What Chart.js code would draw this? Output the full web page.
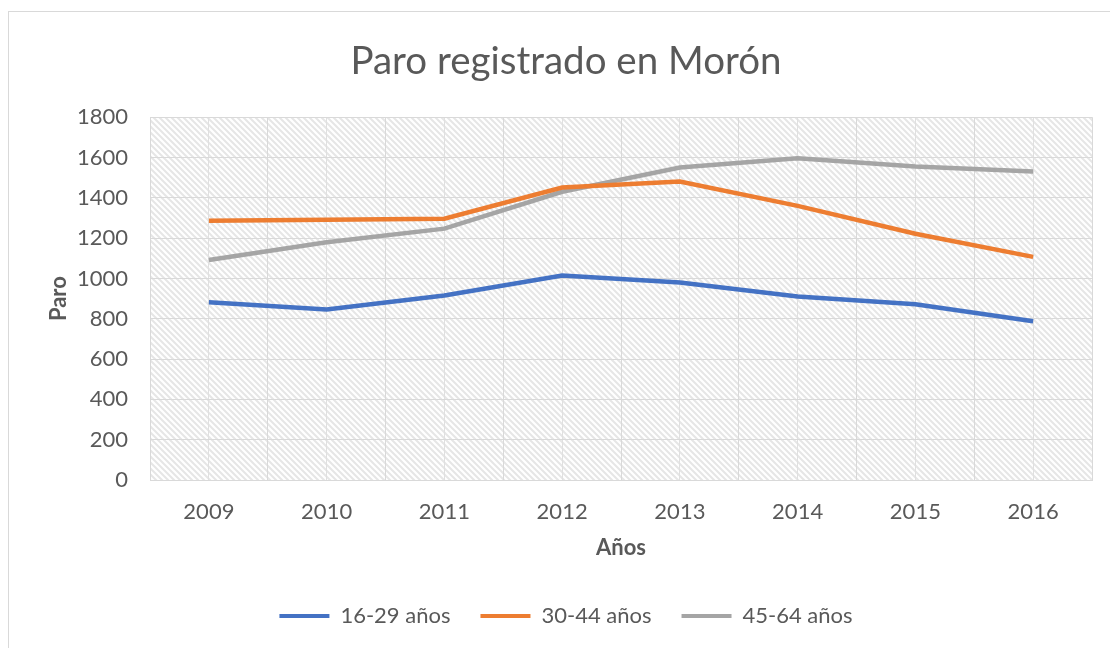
<!DOCTYPE html>
<html>
<head>
<meta charset="utf-8">
<script src="https://cdn.jsdelivr.net/npm/chart.js@4"></script>
<style>
  html, body { margin: 0; padding: 0; background: #fff; }
  #wrap { position: relative; width: 1110px; height: 648px; overflow: hidden; }
  #frame { position: absolute; left: 8px; top: 11px; width: 1120px; height: 660px; border: 1px solid #d9d9d9; box-sizing: border-box; }
  #myChart { position: absolute; left: 0; top: 0; }
</style>
</head>
<body>
<div id="wrap">
  <div id="frame"></div>
  <canvas id="myChart" width="1110" height="648"></canvas>
</div>
<script>
// categories and series
const years = ['2009', '2010', '2011', '2012', '2013', '2014', '2015', '2016'];
const age16to29 = [882, 846, 915, 1015, 980, 910, 872, 788];
const age30to44 = [1286, 1291, 1296, 1451, 1481, 1360, 1222, 1107];
const age45to64 = [1092, 1180, 1247, 1430, 1550, 1596, 1556, 1531];
const yTicks = [0, 200, 400, 600, 800, 1000, 1200, 1400, 1600, 1800];

const textGrey = '#595959';
const font = "Lato, 'Open Sans', sans-serif";

// diagonal hatch behind the plot area
const hatchPlugin = {
    id: 'hatch',
    beforeDraw(chart) {
        const area = chart.chartArea;
        const ctx = chart.ctx;
        const tile = document.createElement('canvas');
        tile.width = 6;
        tile.height = 6;
        const t = tile.getContext('2d');
        t.strokeStyle = '#e6e6e6';
        t.lineWidth = 2;
        t.beginPath();
        t.moveTo(-1, -1); t.lineTo(7, 7);
        t.moveTo(-4, 2); t.lineTo(4, 10);
        t.moveTo(2, -4); t.lineTo(10, 4);
        t.stroke();
        ctx.save();
        ctx.fillStyle = ctx.createPattern(tile, 'repeat');
        ctx.fillRect(area.left, area.top, area.right - area.left, area.bottom - area.top);
        ctx.restore();
    }
};

const chartCanvas = document.getElementById('myChart');
const ctx = chartCanvas.getContext('2d');

function lineSet(label, data, color) {
    return {
        label: label,
        data: data,
        borderColor: color,
        backgroundColor: color,
        borderWidth: 4.5,
        pointRadius: 0,
        tension: 0,
        fill: false
    };
}

new Chart(ctx, {
    type: 'line',
    data: {
        labels: years,
        datasets: [
            lineSet('16-29 años', age16to29, '#4472C4'),
            lineSet('30-44 años', age30to44, '#ED7D31'),
            lineSet('45-64 años', age45to64, '#A5A5A5')
        ]
    },
    options: {
        responsive: false,
        animation: false,
        layout: { padding: { left: 40, right: 18, top: 38, bottom: 11 } },
        plugins: {
            title: {
                display: true,
                text: 'Paro registrado en Morón',
                color: textGrey,
                font: { family: font, size: 38.5, weight: 'normal' },
                padding: { top: 0, bottom: 33 }
            },
            legend: {
                position: 'bottom',
                labels: {
                    color: textGrey,
                    font: { family: font, size: 22 },
                    boxWidth: 50,
                    boxHeight: 4,
                    padding: 30,
                    generateLabels(chart) {
                        const items = Chart.defaults.plugins.legend.labels.generateLabels(chart);
                        items.forEach(it => { it.lineWidth = 0; });
                        return items;
                    }
                }
            },
            tooltip: { enabled: false }
        },
        scales: {
            x: {
                type: 'category',
                offset: true,
                grid: { color: '#d9d9d9', offset: true, drawTicks: false },
                border: { color: '#d9d9d9' },
                ticks: { color: textGrey, font: { family: font, size: 22 }, padding: 19 },
                title: {
                    display: true,
                    text: 'Años',
                    color: textGrey,
                    font: { family: font, size: 22, weight: 'bold' },
                    padding: { top: 4, bottom: 14 }
                },
                afterFit(scale) { scale.height = 95; }
            },
            x2: {
                type: 'category',
                position: 'top',
                offset: true,
                grid: { color: '#e0e0e0', offset: false, drawTicks: false },
                border: { display: false },
                ticks: { display: false },
                afterFit(scale) { scale.height = 0; }
            },
            y: {
                min: 0,
                max: 1800,
                afterBuildTicks(scale) { scale.ticks = yTicks.map(v => ({ value: v })); },
                grid: { color: '#d9d9d9', drawTicks: false },
                border: { display: false },
                ticks: {
                    color: textGrey,
                    font: { family: font, size: 22 },
                    padding: 22,
                    callback: v => String(v)
                },
                title: {
                    display: true,
                    text: 'Paro',
                    color: textGrey,
                    font: { family: font, size: 22, weight: 'bold' },
                    padding: { top: 6, bottom: 8 }
                },
                afterFit(scale) { scale.width = 110; }
            }
        }
    },
    plugins: [hatchPlugin]
});
</script>
</body>
</html>
